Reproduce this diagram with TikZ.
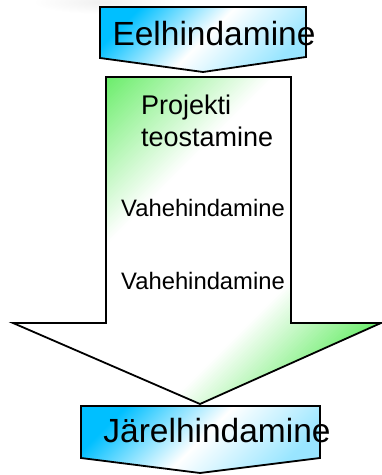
\documentclass[tikz,border=0pt]{standalone}
\usepackage{fontspec}
\setmainfont{Liberation Sans}
\definecolor{cyanA}{rgb}{0.0,0.75,1.0}
\definecolor{greenA}{rgb}{0.42,0.93,0.42}
\begin{document}
\begin{tikzpicture}[x=1pt,y=1pt,
  outl/.style={draw=black,line width=1.8pt,line join=miter},
  bluebox/.style={outl,top color=cyanA,bottom color=cyanA!40!white,middle color=white,shading angle=45},
  bigtxt/.style={font=\fontsize{33.5}{36}\selectfont,inner sep=0pt,anchor=base},
  midtxt/.style={font=\fontsize{27}{32}\selectfont,inner sep=0pt,anchor=base west,align=left},
  smalltxt/.style={font=\fontsize{23.8}{27}\selectfont,inner sep=0pt,anchor=base west}]
\useasboundingbox (0,0) rectangle (382,475);
% faint smudge
\shade[inner color=black!6,outer color=white] (105,473) ellipse (72 and 12);
% big arrow: gradient from green (top-left) to white to green (bottom-right)
\begin{scope}
  \clip (106,398) -- (291,398) -- (291,152) -- (381,152) -- (200,71) -- (13,152) -- (106,152) -- cycle;
  \foreach \u in {-300,-297,...,240}{
    \pgfmathsetmacro\pc{100*min(1,max(0,(-125-\u)/167)+max(0,(\u-95)/134))}
    \fill[greenA!\pc!white] (\u-20,-20) -- (\u+500,500) -- (\u+503.6,500) -- (\u-16.4,-20) -- cycle;
  }
\end{scope}
\draw[outl] (106,398) -- (291,398) -- (291,152) -- (381,152) -- (200,71) -- (13,152) -- (106,152) -- cycle;
% top pentagon
\shade[bluebox] (100,468) -- (306,468) -- (306,418) -- (203,403) -- (100,417) -- cycle;
% bottom pentagon
\shade[bluebox] (81,69) -- (320,69) -- (320,17) -- (200,2) -- (81,17) -- cycle;
% texts
\node[bigtxt] (eel) at (214,429) {Eelhindamine};
\node[bigtxt] (jar) at (217,33) {Järelhindamine};
\node[midtxt] (proj) at (141,360) {Projekti};
\node[midtxt] (teo) at (141,328) {teostamine};
\node[smalltxt] (vahe1) at (121,258) {Vahehindamine};
\node[smalltxt] (vahe2) at (121,185) {Vahehindamine};
\end{tikzpicture}
\end{document}
